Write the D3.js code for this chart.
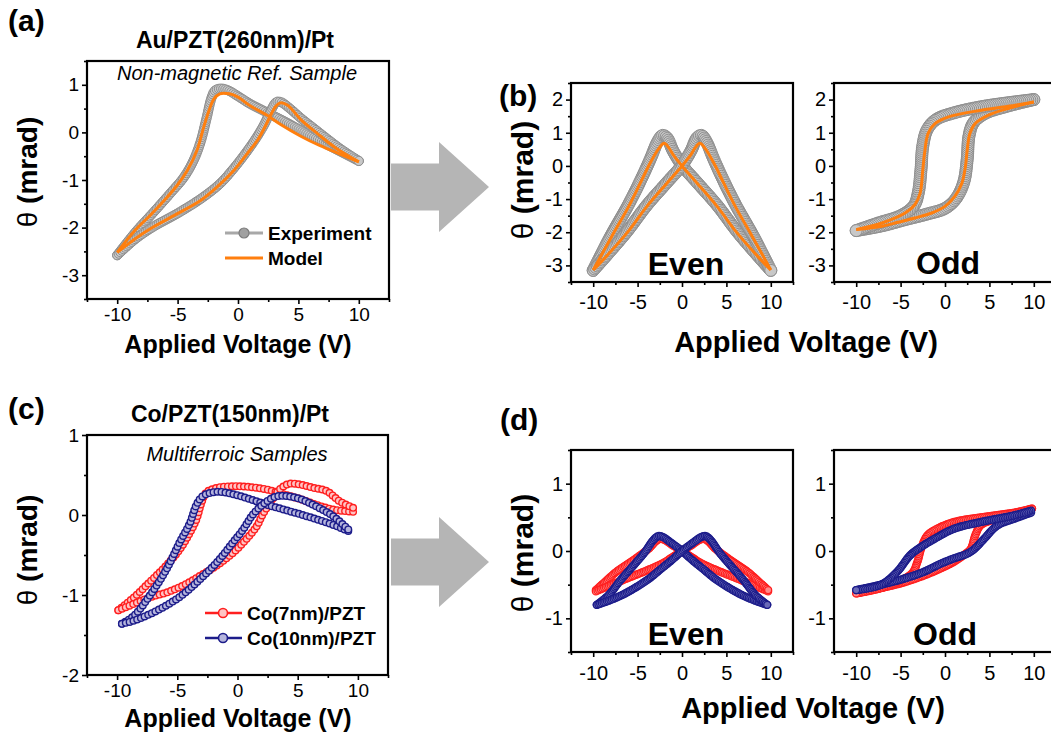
<!DOCTYPE html>
<html>
<head>
<meta charset="utf-8">
<script src="https://cdn.jsdelivr.net/npm/d3@7"></script>
<style>
  body { margin: 0; background: #fff; }
  svg { display: block; }
  text { font-family: 'Liberation Sans', Arial, Helvetica, sans-serif; fill: #000; }
</style>
</head>
<body>
<svg id="fig" width="1051" height="736"></svg>
<script>
// ---------- axis tick values ----------
const xMajor = [-10, -5, 0, 5, 10];
const xMinor = [-12.5, -7.5, -2.5, 2.5, 7.5, 12.5];
const yMajorA = [-3, -2, -1, 0, 1];
const yMinorA = [-3.5, -2.5, -1.5, -0.5, 0.5, 1.5];
const yMajorB = [-3, -2, -1, 0, 1, 2];
const yMinorB = [-3.5, -2.5, -1.5, -0.5, 0.5, 1.5, 2.5];
const yMajorC = [-2, -1, 0, 1];
const yMinorC = [-1.5, -0.5, 0.5];
const yMajorD = [-1, 0, 1];
const yMinorD = [-1.5, -0.5, 0.5, 1.5];

// ---------- (a) Au/PZT(260nm)/Pt : [voltage V, theta mrad] ----------
const aExpLeftPeak = [[-10,-2.58],[-8.5,-2.1],[-7,-1.68],[-5.5,-1.25],[-4.5,-0.95],[-3.7,-0.6],[-3.1,-0.2],[-2.6,0.3],[-2.2,0.72],[-1.9,0.88],[-1.4,0.92],[-0.8,0.88],[0,0.76],[1,0.6],[2,0.47],[3,0.34],[4,0.21],[5,0.07],[6,-0.07],[7,-0.2],[8,-0.34],[9,-0.47],[10,-0.6]];
const aExpRightPeak = [[-10,-2.58],[-8.5,-2.24],[-7,-1.98],[-5,-1.7],[-3,-1.38],[-1.5,-1.08],[-0.5,-0.8],[0.5,-0.48],[1.5,-0.12],[2.2,0.18],[2.7,0.45],[3.2,0.64],[3.6,0.63],[4.3,0.5],[5.2,0.3],[6.2,0.1],[7.2,-0.1],[8.5,-0.35],[10,-0.6]];
const aModelLeftPeak = [[-10,-2.52],[-8.5,-2.05],[-7.3,-1.75],[-6,-1.4],[-5,-1.1],[-4.2,-0.8],[-3.4,-0.38],[-2.85,0.1],[-2.4,0.46],[-2,0.7],[-1.5,0.81],[-0.7,0.81],[0,0.74],[1,0.56],[2.4,0.36],[3.5,0.17],[5.2,-0.08],[6.8,-0.28],[8.5,-0.46],[10,-0.62]];
const aModelRightPeak = [[-10,-2.52],[-8.7,-2.27],[-7.3,-2.03],[-5.4,-1.76],[-3.1,-1.43],[-1.75,-1.15],[-0.35,-0.8],[0.75,-0.45],[1.6,-0.17],[2.3,0.15],[2.7,0.36],[3.1,0.54],[3.5,0.62],[4.1,0.57],[5.2,0.27],[6.6,-0.03],[8,-0.31],[10,-0.62]];

// ---------- (b) even / odd components ----------
const bEvenExpL = [[-10,-3.15],[-8,-2.1],[-6,-1.15],[-4.6,-0.4],[-3.5,0.25],[-2.8,0.7],[-2.2,0.92],[-1.7,0.85],[-1,0.45],[0,0.02],[1.7,-0.5],[4,-1.2],[6.2,-1.98],[8.5,-2.7],[10,-3.15]];
const bEvenExpR = [[-10,-3.15],[-8.5,-2.7],[-6.2,-1.98],[-4,-1.2],[-1.7,-0.5],[0,0.02],[1,0.45],[1.7,0.85],[2.2,0.92],[2.8,0.7],[3.5,0.25],[4.6,-0.4],[6,-1.15],[8,-2.1],[10,-3.15]];
const bEvenModelL = [[-10,-3.14],[-7.9,-2.12],[-6,-1.22],[-4.7,-0.52],[-3.6,0.08],[-2.6,0.53],[-2,0.68],[-1.5,0.55],[-0.9,0.3],[0,0],[1.7,-0.52],[3.95,-1.22],[6.2,-2.02],[8.5,-2.72],[10,-3.14]];
const bEvenModelR = [[-10,-3.14],[-8.5,-2.72],[-6.2,-2.02],[-3.95,-1.22],[-1.7,-0.52],[0,0],[0.9,0.3],[1.5,0.55],[2,0.68],[2.6,0.53],[3.6,0.08],[4.7,-0.52],[6,-1.22],[7.9,-2.12],[10,-3.14]];
const bOddExpUp = [[-10,-1.95],[-7,-1.8],[-4.5,-1.62],[-2,-1.45],[0,-1.28],[1.2,-1.0],[2.1,-0.5],[2.5,0.2],[2.7,0.9],[3.2,1.3],[4.5,1.58],[7,1.8],[10,2.0]];
const bOddExpDown = [[10,2.0],[7,1.9],[4,1.78],[1,1.6],[-1,1.4],[-2,1.1],[-2.5,0.6],[-2.7,-0.1],[-3,-0.8],[-3.5,-1.2],[-5,-1.5],[-7.5,-1.72],[-10,-1.95]];
const bOddModelUp = [[-10,-1.92],[-7.1,-1.82],[-5.3,-1.7],[-3.4,-1.57],[-1.5,-1.42],[0,-1.22],[1.1,-0.92],[1.9,-0.52],[2.3,-0.02],[2.5,0.48],[2.8,0.98],[3.4,1.28],[4.9,1.53],[7.1,1.73],[10,1.93]];
const bOddModelDown = [[10,1.93],[7.9,1.83],[4.1,1.68],[0.4,1.48],[-1.1,1.28],[-1.9,0.98],[-2.3,0.38],[-2.5,-0.12],[-2.8,-0.82],[-3.4,-1.17],[-4.5,-1.42],[-7.1,-1.72],[-10,-1.92]];

// ---------- (c) Co/PZT(150nm)/Pt ----------
const cCo7LeftPeak = [[-9.9,-1.19],[-8.6,-1.03],[-7.3,-0.84],[-5.9,-0.63],[-4.8,-0.43],[-3.95,-0.22],[-3.4,-0.05],[-3,0.15],[-2.6,0.28],[-1.7,0.34],[-0.36,0.36],[1,0.35],[2.4,0.32],[3.8,0.26],[5.2,0.2],[6.5,0.13],[7.9,0.07],[9.6,0.04]];
const cCo7RightPeak = [[-9.9,-1.19],[-8.6,-1.11],[-7.3,-1.03],[-5.9,-0.97],[-4.5,-0.88],[-3.1,-0.76],[-1.7,-0.63],[-0.36,-0.47],[0.75,-0.3],[1.6,-0.14],[2.1,0.01],[2.7,0.15],[3.5,0.32],[4.3,0.39],[5.2,0.38],[6.3,0.34],[7.4,0.3],[8.5,0.17],[9.6,0.09]];
const cCo10LeftPeak = [[-9.6,-1.36],[-8.6,-1.26],[-7.3,-1.01],[-5.9,-0.68],[-4.8,-0.34],[-3.95,-0.1],[-3.4,0.13],[-2.85,0.24],[-1.7,0.29],[-0.36,0.26],[1,0.2],[2.4,0.13],[3.8,0.07],[5.2,0.01],[6.5,-0.05],[7.9,-0.12],[9.2,-0.2]];
const cCo10RightPeak = [[-9.6,-1.36],[-8.6,-1.32],[-7.3,-1.24],[-5.9,-1.13],[-4.5,-0.99],[-3.1,-0.8],[-1.7,-0.59],[-0.36,-0.34],[0.47,-0.18],[1.3,0.01],[2.1,0.13],[3,0.22],[3.8,0.24],[5.2,0.2],[6.5,0.11],[7.9,-0.01],[9.2,-0.18]];

// ---------- (d) even / odd components ----------
const dEvenCo7L = [[-9.7,-0.58],[-8.6,-0.45],[-7.4,-0.31],[-5.2,-0.11],[-3.7,0.04],[-2.9,0.15],[-2.4,0.18],[-1.9,0.16],[-1,0.08],[0,0],[1.2,-0.1],[2,-0.17],[3.8,-0.28],[5.5,-0.37],[7,-0.45],[8.5,-0.53],[9.7,-0.6]];
const dEvenCo7R = [[-9.7,-0.6],[-8.5,-0.53],[-7,-0.45],[-5.5,-0.37],[-3.8,-0.28],[-2,-0.17],[-1.2,-0.1],[0,0],[1,0.08],[1.9,0.16],[2.4,0.18],[2.9,0.15],[3.7,0.04],[5.2,-0.11],[7.4,-0.31],[8.6,-0.45],[9.7,-0.58]];
const dEvenCo10L = [[-9.6,-0.8],[-8.3,-0.66],[-6.9,-0.43],[-5.5,-0.22],[-4.2,-0.02],[-3.3,0.15],[-2.7,0.22],[-2.2,0.21],[-1.2,0.12],[0,0],[1.2,-0.14],[2.5,-0.28],[3.7,-0.41],[5.2,-0.54],[6.7,-0.65],[8.3,-0.74],[9.6,-0.8]];
const dEvenCo10R = [[-9.6,-0.8],[-8.3,-0.74],[-6.7,-0.65],[-5.2,-0.54],[-3.7,-0.41],[-2.5,-0.28],[-1.2,-0.14],[0,0],[1.2,0.12],[2.2,0.21],[2.7,0.22],[3.3,0.15],[4.2,-0.02],[5.5,-0.22],[6.9,-0.43],[8.3,-0.66],[9.6,-0.8]];
const dOddCo7Up = [[-10,-0.63],[-7.2,-0.55],[-5,-0.48],[-2.7,-0.38],[-0.5,-0.26],[1,-0.16],[2.1,-0.06],[2.9,0.03],[3.4,0.23],[4,0.38],[5.1,0.45],[7.8,0.55],[9.8,0.63]];
const dOddCo7Down = [[9.8,0.63],[7.8,0.57],[4,0.5],[1,0.43],[-0.9,0.33],[-2,0.23],[-2.7,0.03],[-3.1,-0.16],[-3.7,-0.33],[-5.4,-0.46],[-7.2,-0.55],[-10,-0.63]];
const dOddCo10Up = [[-10,-0.58],[-7.2,-0.5],[-4.6,-0.41],[-2.4,-0.31],[-0.5,-0.19],[1,-0.11],[2.5,-0.04],[3.3,0.03],[4.4,0.18],[5.9,0.38],[7.8,0.48],[9.7,0.57]];
const dOddCo10Down = [[9.7,0.6],[7.8,0.53],[4,0.43],[1,0.33],[-1.2,0.18],[-2.7,0.06],[-3.9,-0.06],[-5.4,-0.31],[-7.2,-0.5],[-10,-0.58]];

// ---------- styles ----------
const ORANGE = '#ff7f0e';
const RED = '#ff1f1f', RED_FILL = '#ffc4c4';
const BLUE = '#1c1c8a', BLUE_FILL = '#b4b4dc';
const GRAY = '#8e8e8e', GRAY_FILL = '#c8c8c8';

const svg = d3.select('#fig');
const fmt = d => String(d);

function makePanel(cfg) {
  const x = d3.scaleLinear().domain([-12.5, 12.5]).range([cfg.left, cfg.right]);
  const y = d3.scaleLinear().domain(cfg.yDomain).range([cfg.bottom, cfg.top]);
  const g = svg.append('g');
  const styleAxis = sel => {
    sel.select('.domain').remove();
    sel.selectAll('line').attr('stroke', '#000').attr('stroke-width', 1.6);
    sel.selectAll('text').style('font-size', cfg.tickFont + 'px').attr('fill', '#111');
  };
  g.append('g').attr('transform', `translate(0,${cfg.bottom})`)
    .call(d3.axisBottom(x).tickValues(xMinor).tickSize(3).tickSizeOuter(0).tickFormat(''))
    .call(styleAxis);
  g.append('g').attr('transform', `translate(0,${cfg.bottom})`)
    .call(d3.axisBottom(x).tickValues(xMajor).tickSize(5).tickSizeOuter(0).tickPadding(cfg.xPad).tickFormat(fmt))
    .call(styleAxis);
  g.append('g').attr('transform', `translate(${cfg.left},0)`)
    .call(d3.axisLeft(y).tickValues(cfg.yMinor).tickSize(3).tickSizeOuter(0).tickFormat(''))
    .call(styleAxis);
  g.append('g').attr('transform', `translate(${cfg.left},0)`)
    .call(d3.axisLeft(y).tickValues(cfg.yMajor).tickSize(5).tickSizeOuter(0).tickPadding(3).tickFormat(fmt))
    .call(styleAxis);
  const plot = g.append('g');
  g.append('rect')
    .attr('x', cfg.left).attr('y', cfg.top)
    .attr('width', cfg.right - cfg.left).attr('height', cfg.bottom - cfg.top)
    .attr('fill', 'none').attr('stroke', '#000').attr('stroke-width', 2.2);
  const line = d3.line().x(d => x(d[0])).y(d => y(d[1])).curve(d3.curveCatmullRom.alpha(0.5));
  return { x, y, g, plot, line };
}

// a chain of ring markers laid along the curve through the data points
function markerChain(p, pts, o) {
  const path = p.plot.append('path').attr('d', p.line(pts))
    .attr('fill', 'none').attr('stroke', o.lineColor || o.stroke).attr('stroke-width', o.lineWidth || 1.5);
  const node = path.node();
  const L = node.getTotalLength();
  const n = Math.max(2, Math.round(L / o.step));
  const marks = d3.range(n + 1).map(i => node.getPointAtLength(i * L / n));
  p.plot.append('g').selectAll('circle').data(marks).join('circle')
    .attr('cx', m => m.x).attr('cy', m => m.y).attr('r', o.r)
    .attr('fill', o.fill).attr('stroke', o.stroke).attr('stroke-width', o.sw || 1.2);
}
function modelLine(p, pts, w) {
  p.plot.append('path').attr('d', p.line(pts)).attr('fill', 'none')
    .attr('stroke', ORANGE).attr('stroke-width', w || 3).attr('stroke-linejoin', 'round');
}

function text(x, y, str, size, opts = {}) {
  return svg.append('text').attr('x', x).attr('y', y).text(str)
    .style('font-size', size + 'px')
    .style('font-weight', opts.weight || 'normal')
    .style('font-style', opts.style || 'normal')
    .attr('text-anchor', opts.anchor || 'middle');
}
function yTitle(cx, cy, size) {
  const t = svg.append('text')
    .attr('transform', `translate(${cx},${cy}) rotate(-90)`)
    .attr('text-anchor', 'middle').style('font-size', size + 'px').style('font-weight', 'bold');
  t.append('tspan').style('font-weight', 'normal').text('θ');
  t.append('tspan').text(' (mrad)');
}
function arrow(x0, yc, xHead, xTip) {
  const hs = 23.5, hh = 45;
  const pts = [[x0, yc - hs], [xHead, yc - hs], [xHead, yc - hh], [xTip, yc], [xHead, yc + hh], [xHead, yc + hs], [x0, yc + hs]];
  svg.append('path').attr('d', d3.line()(pts) + 'Z').attr('fill', '#b5b5b5');
}

// ===== panel (a) =====
const pa = makePanel({ left: 87, right: 389, top: 61, bottom: 299, yDomain: [-3.5, 1.5], yMajor: yMajorA, yMinor: yMinorA, tickFont: 19, xPad: 4 });
const grayA = { stroke: GRAY, fill: GRAY_FILL, r: 4.6, step: 2.2, lineColor: '#9a9a9a', lineWidth: 3, sw: 1.0 };
markerChain(pa, aExpLeftPeak, grayA);
markerChain(pa, aExpRightPeak, grayA);
modelLine(pa, aModelLeftPeak);
modelLine(pa, aModelRightPeak);
text(237, 80, 'Non-magnetic Ref. Sample', 20, { style: 'italic' });
// legend
svg.append('line').attr('x1', 225).attr('x2', 263).attr('y1', 233).attr('y2', 233).attr('stroke', '#a8a8a8').attr('stroke-width', 3);
svg.append('circle').attr('cx', 244).attr('cy', 233).attr('r', 5).attr('fill', '#a0a0a0').attr('stroke', '#7c7c7c').attr('stroke-width', 1.2);
svg.append('line').attr('x1', 225).attr('x2', 263).attr('y1', 258).attr('y2', 258).attr('stroke', ORANGE).attr('stroke-width', 3);
text(268, 240, 'Experiment', 19, { weight: 'bold', anchor: 'start' });
text(268, 265, 'Model', 19, { weight: 'bold', anchor: 'start' });
text(8, 31, '(a)', 30, { weight: 'bold', anchor: 'start' });
text(235, 48, 'Au/PZT(260nm)/Pt', 23, { weight: 'bold' });
text(238, 353, 'Applied Voltage (V)', 25, { weight: 'bold' });
yTitle(37, 172, 28);

// ===== panel (b) =====
const grayB = { stroke: GRAY, fill: GRAY_FILL, r: 6, step: 2.0, lineColor: '#8c8c8c', lineWidth: 5, sw: 1.0 };
const pbE = makePanel({ left: 571, right: 793, top: 83, bottom: 282, yDomain: [-3.5, 2.5], yMajor: yMajorB, yMinor: yMinorB, tickFont: 20, xPad: 8 });
markerChain(pbE, bEvenExpL, grayB);
markerChain(pbE, bEvenExpR, grayB);
modelLine(pbE, bEvenModelL);
modelLine(pbE, bEvenModelR);
const pbO = makePanel({ left: 834, right: 1056, top: 83, bottom: 282, yDomain: [-3.5, 2.5], yMajor: yMajorB, yMinor: yMinorB, tickFont: 20, xPad: 8 });
markerChain(pbO, bOddExpUp, grayB);
markerChain(pbO, bOddExpDown, grayB);
modelLine(pbO, bOddModelUp);
modelLine(pbO, bOddModelDown);
text(686, 275, 'Even', 32, { weight: 'bold' });
text(948, 274, 'Odd', 32, { weight: 'bold' });
text(499, 106, '(b)', 30, { weight: 'bold', anchor: 'start' });
text(806, 352, 'Applied Voltage (V)', 29, { weight: 'bold' });
yTitle(533, 180, 30);

// ===== panel (c) =====
const pc = makePanel({ left: 87, right: 388, top: 435, bottom: 675, yDomain: [-2, 1], yMajor: yMajorC, yMinor: yMinorC, tickFont: 19, xPad: 4 });
const redC = { stroke: RED, fill: RED_FILL, r: 3.3, step: 4.0, lineWidth: 1.5, sw: 1.4 };
const blueC = { stroke: BLUE, fill: BLUE_FILL, r: 3.3, step: 4.0, lineWidth: 1.5, sw: 1.4 };
markerChain(pc, cCo7LeftPeak, redC);
markerChain(pc, cCo7RightPeak, redC);
markerChain(pc, cCo10LeftPeak, blueC);
markerChain(pc, cCo10RightPeak, blueC);
text(237, 461, 'Multiferroic Samples', 20, { style: 'italic' });
svg.append('line').attr('x1', 205).attr('x2', 242).attr('y1', 613).attr('y2', 613).attr('stroke', RED).attr('stroke-width', 2.5);
svg.append('circle').attr('cx', 223).attr('cy', 613).attr('r', 4.5).attr('fill', RED_FILL).attr('stroke', RED).attr('stroke-width', 1.6);
svg.append('line').attr('x1', 205).attr('x2', 242).attr('y1', 638).attr('y2', 638).attr('stroke', BLUE).attr('stroke-width', 2.5);
svg.append('circle').attr('cx', 223).attr('cy', 638).attr('r', 4.5).attr('fill', BLUE_FILL).attr('stroke', BLUE).attr('stroke-width', 1.6);
text(247, 620, 'Co(7nm)/PZT', 19, { weight: 'bold', anchor: 'start' });
text(247, 645, 'Co(10nm)/PZT', 19, { weight: 'bold', anchor: 'start' });
text(8, 419, '(c)', 30, { weight: 'bold', anchor: 'start' });
text(230, 422, 'Co/PZT(150nm)/Pt', 23, { weight: 'bold' });
text(238, 727, 'Applied Voltage (V)', 25, { weight: 'bold' });
yTitle(37, 550, 28);

// ===== panel (d) =====
const redD = { stroke: RED, fill: '#ff8a8a', r: 3.5, step: 1.8, lineWidth: 1.5, sw: 1.3 };
const blueD = { stroke: BLUE, fill: '#6a6ab8', r: 3.5, step: 1.8, lineWidth: 1.5, sw: 1.3 };
const pdE = makePanel({ left: 571, right: 793, top: 450, bottom: 652, yDomain: [-1.5, 1.5], yMajor: yMajorD, yMinor: yMinorD, tickFont: 20, xPad: 9 });
markerChain(pdE, dEvenCo7L, redD);
markerChain(pdE, dEvenCo7R, redD);
markerChain(pdE, dEvenCo10L, blueD);
markerChain(pdE, dEvenCo10R, blueD);
const pdO = makePanel({ left: 834, right: 1056, top: 450, bottom: 652, yDomain: [-1.5, 1.5], yMajor: yMajorD, yMinor: yMinorD, tickFont: 20, xPad: 9 });
markerChain(pdO, dOddCo7Up, redD);
markerChain(pdO, dOddCo7Down, redD);
markerChain(pdO, dOddCo10Up, blueD);
markerChain(pdO, dOddCo10Down, blueD);
text(686, 645, 'Even', 32, { weight: 'bold' });
text(945, 645, 'Odd', 32, { weight: 'bold' });
text(500, 430, '(d)', 30, { weight: 'bold', anchor: 'start' });
text(813, 718, 'Applied Voltage (V)', 29, { weight: 'bold' });
yTitle(533, 553, 30);

// ===== arrows between panels =====
arrow(391, 187, 439, 489);
arrow(391, 562, 439, 489);
</script>
</body>
</html>
